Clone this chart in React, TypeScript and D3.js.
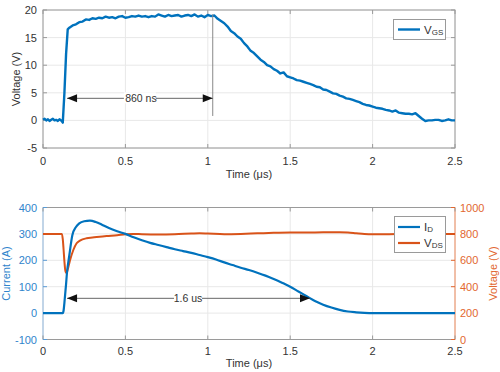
import * as d3 from "d3";

// Gate voltage V_GS (V) vs time (µs)
const vgsTime = [0, 0.01, 0.02, 0.03, 0.04, 0.05, 0.06, 0.07, 0.08, 0.09, 0.1, 0.11, 0.12, 0.13, 0.14, 0.15, 0.16, 0.18, 0.2, 0.22, 0.24, 0.26, 0.28, 0.3, 0.32, 0.34, 0.36, 0.38, 0.4, 0.42, 0.44, 0.46, 0.48, 0.5, 0.52, 0.54, 0.56, 0.58, 0.6, 0.62, 0.64, 0.66, 0.68, 0.7, 0.72, 0.74, 0.76, 0.78, 0.8, 0.82, 0.84, 0.86, 0.88, 0.9, 0.92, 0.94, 0.96, 0.98, 1.0, 1.02, 1.04, 1.06, 1.08, 1.1, 1.12, 1.14, 1.16, 1.18, 1.2, 1.22, 1.24, 1.26, 1.28, 1.3, 1.32, 1.34, 1.36, 1.38, 1.4, 1.42, 1.44, 1.46, 1.48, 1.5, 1.52, 1.54, 1.56, 1.58, 1.6, 1.62, 1.64, 1.66, 1.68, 1.7, 1.72, 1.74, 1.76, 1.78, 1.8, 1.82, 1.84, 1.86, 1.88, 1.9, 1.92, 1.94, 1.96, 1.98, 2.0, 2.02, 2.04, 2.06, 2.08, 2.1, 2.12, 2.14, 2.16, 2.18, 2.2, 2.22, 2.24, 2.26, 2.28, 2.3, 2.32, 2.34, 2.36, 2.38, 2.4, 2.42, 2.44, 2.46, 2.48, 2.5];
const vgsValue = [0.1, 0.3, 0, 0.2, -0.1, 0.1, 0.3, 0, 0.1, -0.1, 0.2, 0, -0.4, 5, 12, 16.5, 16.8, 17.2, 17.4, 17.8, 17.9, 18.3, 18.2, 18.5, 18.4, 18.6, 18.5, 18.8, 18.6, 18.7, 18.5, 18.8, 18.9, 18.6, 18.7, 18.9, 18.8, 19, 18.8, 18.9, 18.7, 18.9, 18.8, 19.2, 19, 18.8, 19.1, 18.9, 19, 19.1, 18.8, 19, 19.1, 18.9, 19.2, 18.8, 19, 18.7, 19.1, 18.9, 19, 18.4, 18, 17.6, 17, 16.2, 15.8, 15.2, 14.8, 14, 13.4, 12.6, 12.2, 11.6, 11, 10.6, 10, 9.8, 9.3, 9, 8.5, 8.7, 8, 7.8, 7.6, 7.3, 7.2, 7, 6.8, 6.6, 6.4, 6.1, 6.0, 5.6, 5.5, 5.2, 4.9, 4.8, 4.5, 4.3, 4, 3.9, 3.7, 3.5, 3.3, 3.0, 2.8, 2.7, 2.5, 2.3, 2.2, 2.1, 1.9, 1.8, 1.6, 1.8, 1.4, 1.3, 1.2, 1.2, 1.1, 1.3, 0.8, 0.3, -0.1, 0, 0, 0.1, 0.1, -0.1, 0, 0.2, 0, 0];

// Drain current I_D (A)
const idTime = [0, 0.12, 0.125, 0.13, 0.14, 0.145, 0.16, 0.178, 0.2, 0.22, 0.25, 0.285, 0.32, 0.36, 0.4, 0.45, 0.5, 0.55, 0.6, 0.65, 0.7, 0.75, 0.8, 0.85, 0.9, 0.95, 1.0, 1.05, 1.1, 1.15, 1.2, 1.25, 1.3, 1.35, 1.4, 1.45, 1.5, 1.55, 1.6, 1.65, 1.7, 1.75, 1.8, 1.85, 1.9, 1.95, 2.0, 2.5];
const idValue = [0, 0, 10, 40, 110, 150, 220, 295, 326, 340, 348, 350, 345, 334, 322, 310, 300, 287, 276, 266, 258, 250, 242, 235, 228, 220, 212, 203, 192, 182, 172, 163, 153, 142, 129, 115, 100, 82, 64, 46, 32, 21, 12, 6, 3, 1, 0, 0];

// Drain-source voltage V_DS (V), right axis
const vdsTime = [0, 0.115, 0.12, 0.125, 0.13, 0.135, 0.14, 0.145, 0.15, 0.164, 0.184, 0.204, 0.224, 0.265, 0.3, 0.386, 0.45, 0.5, 0.55, 0.6, 0.7, 0.8, 0.9, 0.95, 1.0, 1.1, 1.2, 1.3, 1.4, 1.5, 1.6, 1.7, 1.8, 1.85, 1.9, 1.95, 2.0, 2.1, 2.2, 2.3, 2.5];
const vdsValue = [800, 800, 760, 680, 590, 525, 505, 510, 530, 600, 678, 729, 749, 767, 772, 784, 790, 798, 800, 798, 796, 798, 803, 805, 803, 798, 800, 804, 808, 810, 810, 812, 812, 810, 805, 800, 798, 798, 800, 800, 800];

const timeTicks = [0, 0.5, 1, 1.5, 2, 2.5];
const vgsTicks = [-5, 0, 5, 10, 15, 20];
const idTicks = [-100, 0, 100, 200, 300, 400];
const vdsTicks = [0, 200, 400, 600, 800, 1000];

// annotations: [start, end] times and level
const gateSpan = [0.146, 1.03];
const gateLevel = 4;
const currentSpan = [0.146, 1.62];
const currentLevel = 56;

const BLUE = "#0072BD";
const RED = "#D95319";
const GRID = "#e8e8e8";
const FRAME = "#9a9a9a";
const TXT = "#333";
const FONT = "Arial, 'Liberation Sans', Helvetica, sans-serif";

const L = 43, R = 455;

function Arrow({ x1, x2, y }: { x1: number; x2: number; y: number }) {
  return (
    <g>
      <line x1={x1} x2={x2} y1={y} y2={y} stroke="#666" strokeWidth={1} />
      <path d={`M${x1},${y} l10,-4 v8 z`} fill="#111" />
      <path d={`M${x2},${y} l-10,-4 v8 z`} fill="#111" />
    </g>
  );
}

export default function App() {
  const x = d3.scaleLinear().domain([0, 2.5]).range([L, R]);
  const yTop = d3.scaleLinear().domain([-5, 20]).range([148, 10]);
  const yI = d3.scaleLinear().domain([-100, 400]).range([339.5, 207.5]);
  const yV = d3.scaleLinear().domain([0, 1000]).range([339.5, 207.5]);

  const vgsLine = d3.line<number>().x((_, i) => x(vgsTime[i])).y((d) => yTop(d));
  const idLine = d3.line<number>().x((_, i) => x(idTime[i])).y((d) => yI(d)).curve(d3.curveMonotoneX);
  const vdsLine = d3.line<number>().x((_, i) => x(vdsTime[i])).y((d) => yV(d)).curve(d3.curveMonotoneX);

  const gx1 = x(gateSpan[0]), gx2 = x(gateSpan[1]), gy = yTop(gateLevel);
  const cx1 = x(currentSpan[0]), cx2 = x(currentSpan[1]), cy = yI(currentLevel);

  return (
    <svg width={500} height={372} style={{ position: "absolute", left: 0, top: 0, background: "#fff" }} fontFamily={FONT}>
      {/* ---------- top plot ---------- */}
      <g>
        {timeTicks.map((t) => (
          <line key={"gx" + t} x1={x(t)} x2={x(t)} y1={yTop(20)} y2={yTop(-5)} stroke={GRID} />
        ))}
        {vgsTicks.map((v) => (
          <line key={"gy" + v} x1={L} x2={R} y1={yTop(v)} y2={yTop(v)} stroke={GRID} />
        ))}
        <rect x={L} y={yTop(20)} width={R - L} height={yTop(-5) - yTop(20)} fill="none" stroke={FRAME} />
        {timeTicks.map((t) => (
          <g key={"tx" + t}>
            <line x1={x(t)} x2={x(t)} y1={yTop(-5)} y2={yTop(-5) - 4} stroke={FRAME} />
            <line x1={x(t)} x2={x(t)} y1={yTop(20)} y2={yTop(20) + 4} stroke={FRAME} />
            <text x={x(t)} y={165} textAnchor="middle" fontSize={11} fill={TXT}>{t}</text>
          </g>
        ))}
        {vgsTicks.map((v) => (
          <g key={"ty" + v}>
            <line x1={L} x2={L + 4} y1={yTop(v)} y2={yTop(v)} stroke={FRAME} />
            <line x1={R} x2={R - 4} y1={yTop(v)} y2={yTop(v)} stroke={FRAME} />
            <text x={37} y={yTop(v) + 4} textAnchor="end" fontSize={11} fill={TXT}>{v}</text>
          </g>
        ))}
        <text x={249} y={178} textAnchor="middle" fontSize={11} fill={TXT}>Time (μs)</text>
        <text transform={`translate(20,${(yTop(20) + yTop(-5)) / 2}) rotate(-90)`} textAnchor="middle" fontSize={11} fill={TXT}>Voltage (V)</text>

        <path d={vgsLine(vgsValue) ?? ""} fill="none" stroke={BLUE} strokeWidth={2.4} strokeLinejoin="round" />

        <line x1={gx2} x2={gx2} y1={yTop(19.2)} y2={yTop(0.8)} stroke="#888" strokeWidth={1} />
        <Arrow x1={gx1} x2={gx2} y={gy} />
        <rect x={(gx1 + gx2) / 2 - 16} y={gy - 6} width={32} height={11} fill="#fff" />
        <text x={(gx1 + gx2) / 2 + 1} y={gy + 4} textAnchor="middle" fontSize={10.5} fill={TXT}>860 ns</text>

        <rect x={393.5} y={19.5} width={52} height={20} fill="#fff" stroke={FRAME} />
        <line x1={398} x2={420} y1={29.5} y2={29.5} stroke={BLUE} strokeWidth={2.4} />
        <text x={424} y={34} fontSize={11.5} fill={TXT}>V<tspan fontSize={8} dy={1}>GS</tspan></text>
      </g>

      {/* ---------- bottom plot ---------- */}
      <g>
        {timeTicks.map((t) => (
          <line key={"bgx" + t} x1={x(t)} x2={x(t)} y1={yI(400)} y2={yI(-100)} stroke={GRID} />
        ))}
        {idTicks.map((v) => (
          <line key={"bgy" + v} x1={L} x2={R} y1={yI(v)} y2={yI(v)} stroke={GRID} />
        ))}
        <line x1={L} x2={R} y1={yI(400)} y2={yI(400)} stroke={FRAME} />
        <line x1={L} x2={R} y1={yI(-100)} y2={yI(-100)} stroke={FRAME} />
        <line x1={L} x2={L} y1={yI(400)} y2={yI(-100)} stroke="#8fb6dc" />
        <line x1={R} x2={R} y1={yV(1000)} y2={yV(0)} stroke="#ee8a5c" />
        {timeTicks.map((t) => (
          <g key={"btx" + t}>
            <line x1={x(t)} x2={x(t)} y1={yI(-100)} y2={yI(-100) - 4} stroke={FRAME} />
            <line x1={x(t)} x2={x(t)} y1={yI(400)} y2={yI(400) + 4} stroke={FRAME} />
            <text x={x(t)} y={355} textAnchor="middle" fontSize={11} fill={TXT}>{t}</text>
          </g>
        ))}
        {idTicks.map((v) => (
          <g key={"bty" + v}>
            <line x1={L} x2={L + 4} y1={yI(v)} y2={yI(v)} stroke="#5a9bd5" />
            <text x={37} y={yI(v) + 4} textAnchor="end" fontSize={11} fill="#2f84cc">{v}</text>
          </g>
        ))}
        {vdsTicks.map((v) => (
          <g key={"bvy" + v}>
            <line x1={R} x2={R - 4} y1={yV(v)} y2={yV(v)} stroke="#e2672f" />
            <text x={460} y={yV(v) + 4} textAnchor="start" fontSize={11} fill="#e2672f">{v}</text>
          </g>
        ))}
        <text x={249} y={367} textAnchor="middle" fontSize={11} fill={TXT}>Time (μs)</text>
        <text transform={`translate(10,${(yI(400) + yI(-100)) / 2}) rotate(-90)`} textAnchor="middle" fontSize={11} fill="#2f84cc">Current (A)</text>
        <text transform={`translate(497,${(yV(1000) + yV(0)) / 2}) rotate(-90)`} textAnchor="middle" fontSize={11} fill="#e2672f">Voltage (V)</text>

        <path d={vdsLine(vdsValue) ?? ""} fill="none" stroke={RED} strokeWidth={2} />
        <path d={idLine(idValue) ?? ""} fill="none" stroke={BLUE} strokeWidth={2.2} />

        <Arrow x1={cx1} x2={cx2} y={cy} />
        <rect x={x(0.88) - 14} y={cy - 6} width={28} height={11} fill="#fff" />
        <text x={x(0.88)} y={cy + 4} textAnchor="middle" fontSize={10.5} fill={TXT}>1.6 us</text>

        <rect x={394.5} y={216.5} width={51} height={36} fill="#fff" stroke={FRAME} />
        <line x1={398} x2={420} y1={227} y2={227} stroke={BLUE} strokeWidth={2.2} />
        <text x={424} y={231} fontSize={11.5} fill={TXT}>I<tspan fontSize={8} dy={1}>D</tspan></text>
        <line x1={398} x2={420} y1={243} y2={243} stroke={RED} strokeWidth={2.2} />
        <text x={424} y={247} fontSize={11.5} fill={TXT}>V<tspan fontSize={8} dy={1}>DS</tspan></text>
      </g>
    </svg>
  );
}
